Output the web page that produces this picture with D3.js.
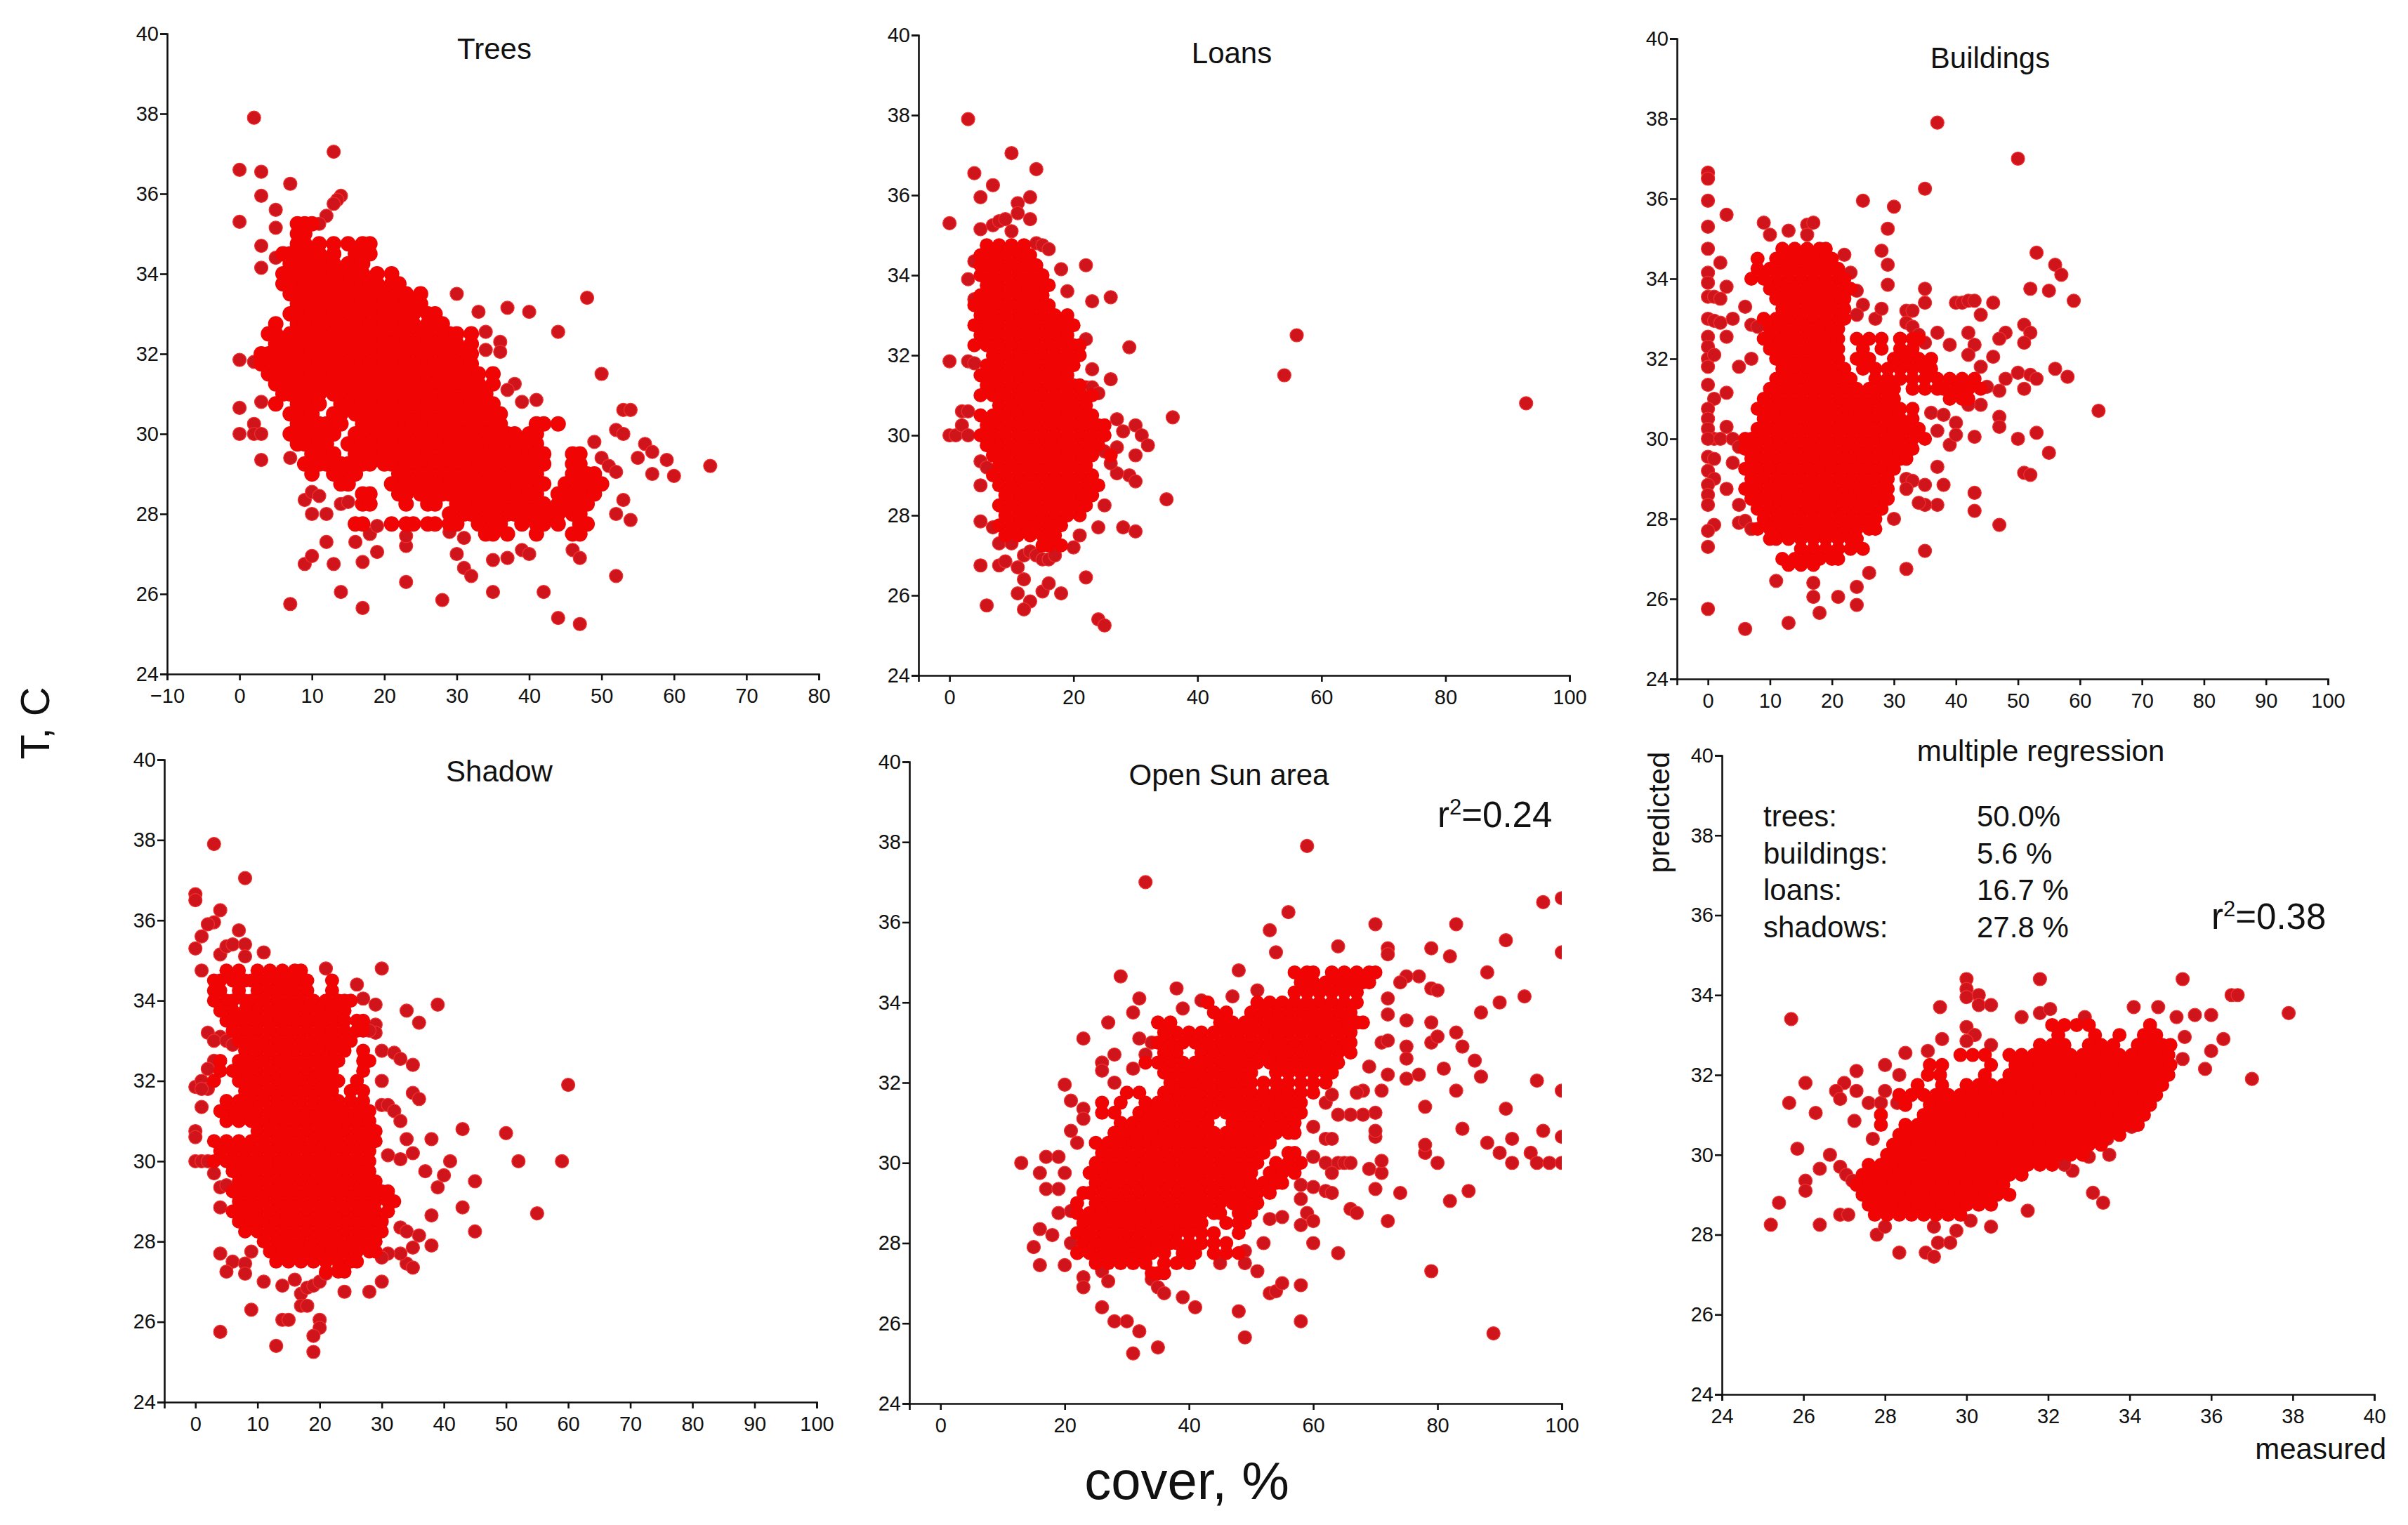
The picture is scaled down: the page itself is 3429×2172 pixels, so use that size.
<!DOCTYPE html>
<html>
<head>
<meta charset="utf-8">
<script src="https://cdn.jsdelivr.net/npm/d3@7"></script>
<style>
  html, body { margin: 0; background: #fff; }
  text { font-family: "Liberation Sans", Arial, sans-serif; fill: #111; }
</style>
</head>
<body>
<div id="chart"></div>
<script>
// dense parts are kept as [T, [cover, cover, ...]] rows, stray points as [cover, T]
const treesRows = [
  [35.25,[8,9,10]],[35,[8,9]],[34.75,[8,9,11,13,15,17,18]],[34.5,[6,7,8,10,11,13,16,17,18]],
  [34.25,[7,8,9,11,12,13,15,17]],[34,[6,7,8,10,11,13,14,16,17,19,21]],
  [33.75,[6,8,9,11,12,14,15,17,18,19,21,22]],[33.5,[7,8,10,11,13,14,16,17,19,20,22,23,25]],
  [33.25,[8,9,11,12,14,15,17,18,20,21,23,24,25]],[33,[7,8,10,11,13,14,16,17,19,20,22,23,24,26,27]],
  [32.75,[5,8,9,11,12,14,15,17,18,20,21,23,24,26,27,28]],
  [32.5,[4,5,7,8,10,11,13,14,16,17,19,20,22,23,25,26,28,29,30,32]],
  [32.25,[5,6,8,9,11,12,14,15,17,18,20,21,23,24,26,27,29,30,32]],
  [32,[3,4,5,7,8,10,11,13,14,16,17,19,20,22,23,25,26,28,29,31,32]],
  [31.75,[3,5,6,8,9,11,12,14,15,17,18,20,21,23,24,26,27,29,30,32]],
  [31.5,[4,5,7,8,10,11,13,14,16,17,19,20,22,23,25,26,28,29,31,32,33,35]],
  [31.25,[5,6,8,9,11,12,14,15,17,18,20,21,23,24,26,27,29,30,32,33,35]],
  [31,[6,7,8,10,11,13,14,16,17,19,20,22,23,25,26,28,29,31,32,34]],
  [30.75,[5,8,9,11,14,15,17,18,20,21,23,24,26,27,29,30,32,33,35]],
  [30.5,[7,8,10,13,14,16,17,19,20,22,23,25,26,28,29,31,32,34,35,36]],
  [30.25,[8,9,11,12,14,17,18,20,21,23,24,26,27,29,30,32,33,35,36,41,42,44]],
  [30,[7,8,10,11,13,16,17,19,20,22,23,25,26,28,29,31,32,34,35,37,38,40,41]],
  [29.75,[8,9,11,12,15,17,18,20,21,23,24,26,27,29,30,32,33,35,36,38,39,41]],
  [29.5,[10,11,13,16,17,19,20,22,23,25,26,28,29,31,32,34,35,37,38,40,41,42,46,47]],
  [29.25,[9,11,12,14,15,17,18,20,21,23,24,26,27,29,30,32,33,35,36,38,39,41,42,46,47]],
  [29,[10,13,14,16,22,23,25,26,28,29,31,32,34,35,37,38,40,41,46,48,49]],
  [28.75,[14,15,21,23,24,26,27,29,30,32,33,35,36,38,39,41,42,45,47,48,50]],
  [28.5,[17,18,22,23,25,26,28,29,31,32,34,35,37,38,40,41,44,46,47,49]],
  [28.25,[17,18,23,26,27,30,32,33,35,36,38,39,41,42,44,45,47,48]],
  [28,[29,31,32,34,35,37,38,40,41,43,44,46,47]],
  [27.75,[16,17,21,23,24,26,27,29,30,33,35,36,39,41,42,44,47,48]],
  [27.5,[34,35,37,41,46,47]]
];
const treesStray = [[2,37.9],[13,37.05],[0,36.6],[3,36.55],[7,36.25],[3,35.95],[14,35.95],[13.5,35.85],[13,35.75],[5,35.6],[0,35.3],[5,35.15],[12,35.45],[11,35.25],[3,34.7],[3,34.15],[5,34.4],[0,31.85],[2,31.8],[0,30.65],[3,30.8],[0,30],[2,30.25],[2,30],[3,30],[3,29.35],[7,29.4],[30,33.5],[33,33.05],[37,33.15],[40,33.05],[48,33.4],[44,32.55],[50,31.5],[34,32.55],[36,32.3],[36,32.05],[34,32.1],[38,31.25],[37,31.1],[39,30.8],[41,30.85],[52,30.1],[53,30],[53,30.6],[54,30.6],[49,29.8],[50,29.4],[51,29.2],[52,29.05],[55,29.4],[56,29.75],[57,29.55],[57,29],[59,29.35],[60,28.95],[65,29.2],[53,28.35],[52,28],[54,27.85],[9,28.35],[10,28.55],[11,28.45],[10,28],[12,28],[14,28.25],[15,28.3],[12,27.3],[9,26.75],[10,26.95],[13,26.75],[14,26.05],[17,26.8],[16,27.3],[19,27.05],[18,27.5],[19,27.7],[7,25.75],[17,25.65],[23,26.3],[28,25.85],[23,27.2],[23,27.45],[29,27.55],[31,27.4],[30,27],[31,26.65],[32,26.45],[35,26.85],[37,26.9],[39,27.1],[40,27],[35,26.05],[42,26.05],[44,25.4],[47,25.25],[52,26.45],[46,27.1],[47,26.9]];

const loansRows = [
  [34.75,[6,8,10,12]],[34.5,[5,7,9,11,13]],[34.25,[5,6,8,10,12,14]],[34,[5,7,9,11,13,15]],
  [33.75,[6,8,10,12,14,16]],[33.5,[5,7,9,11,13,15]],[33.25,[4,6,8,10,12,14,16]],
  [33,[5,7,9,11,13,15,17,19]],[32.75,[4,6,8,10,12,14,16,18,20]],[32.5,[5,7,9,11,13,15,17,19]],
  [32.25,[4,6,8,10,12,14,16,18,20,21]],[32,[7,9,11,13,15,17,19,21]],[31.75,[6,8,10,12,14,16,18,20]],
  [31.5,[5,7,9,11,13,15,17,19]],[31.25,[6,8,10,12,14,16,18,20,21]],[31,[5,7,9,11,13,15,17,19,21,23]],
  [30.75,[8,10,12,14,16,18,20,22]],[30.5,[5,7,9,11,13,15,17,19,21,23]],[30.25,[6,8,10,12,14,16,18,20,22,24,25]],
  [30,[5,7,9,11,13,15,17,19,21,23,25]],[29.75,[6,8,10,12,14,16,18,20,22,24]],[29.5,[7,9,11,13,15,17,19,21,23,26]],
  [29.25,[8,10,12,14,16,18,20,22]],[29,[7,9,11,13,15,17,19,21,23]],[28.75,[8,10,12,14,16,18,20,22,24]],
  [28.5,[9,11,13,15,17,19,21,23]],[28.25,[8,10,12,14,16,18,20,22]],[28,[9,11,13,15,17,19,21]],
  [27.75,[8,10,12,14,16,18]],[27.5,[9,11,13,15,17]],[27.25,[15,16,18]]
];
const loansStray = [[3,37.9],[10,37.05],[14,36.65],[4,36.55],[7,36.25],[5,35.95],[13,35.95],[11,35.8],[11,35.55],[13,35.4],[0,35.3],[5,35.15],[7,35.25],[8,35.35],[9,35.4],[10,35.1],[22,34.25],[18,34.15],[3,33.9],[4,34.35],[19,33.6],[23,33.35],[26,33.45],[4,33.4],[22,32.4],[29,32.2],[56,32.5],[54,31.5],[93,30.8],[0,31.85],[3,31.85],[4,31.8],[23,31.65],[26,31.4],[36,30.45],[27,30.4],[30,30.25],[31,30],[32,29.75],[30,29.5],[29,29],[30,28.85],[27,29.05],[35,28.4],[25,28.25],[24,27.7],[28,27.7],[30,27.6],[21,27.5],[20,27.2],[0,30],[1,30],[2,30.6],[3,30.6],[2,30.25],[3,30],[5,29.35],[6,29.2],[5,28.75],[5,27.85],[5,26.75],[8,26.75],[9,26.85],[11,26.7],[12,26.4],[11,26.05],[15,26.1],[16,26.3],[18,26.05],[13,25.85],[12,25.65],[6,25.75],[22,26.45],[24,25.4],[25,25.25],[14,34.8],[15,34.75],[16,34.65],[22,31.2],[23,31.2],[24,31.05],[23,29.7],[25,29.6],[27,29.7],[28,30.1],[26,29.3],[7,27.7],[8,27.3],[10,27.3],[12,27],[13,27.1],[14,27],[15,26.9],[16,26.9],[17,27]];

const buildingsRows = [
  [34.75,[12,14,16,18,19]],[34.5,[8,11,13,15,17,19,20]],[34.25,[8,10,12,14,16,18,20,21]],[34,[7,9,11,13,15,17,19,21,22]],
  [33.75,[10,12,14,16,18,20,22,23]],[33.5,[11,13,15,17,19,21,22]],[33.25,[12,14,16,18,20,22]],[33,[9,11,13,15,17,19,21,22]],
  [32.75,[10,12,14,16,18,20,21]],[32.5,[9,11,13,15,17,19,21,24,26,28,31,33,34]],[32.25,[10,12,14,16,18,20,21,25,28,31,33]],
  [32,[11,13,15,17,19,21,24,26,30,32,34,36]],[31.75,[12,14,16,18,20,22,25,27,29,31,33,35,36]],
  [31.5,[11,13,15,17,19,21,23,27,29,31,33,35,37,39,41,43]],[31.25,[10,12,14,16,18,20,22,24,26,28,30,33,35,37,38,40,42,44]],
  [31,[9,11,13,15,17,19,21,23,25,27,29,30,39,41,42]],[30.75,[8,10,12,14,16,18,20,22,24,26,28,30,31,33]],
  [30.5,[9,11,13,15,17,19,21,23,25,27,29,31,33]],[30.25,[8,10,12,14,16,18,20,22,24,26,28,30,32,34]],
  [30,[6,7,9,11,13,15,17,19,21,23,25,27,29,31,33,35]],[29.75,[6,8,10,12,14,16,18,20,22,24,26,28,30,32,33]],
  [29.5,[7,9,11,13,15,17,19,21,23,25,27,29,31,32]],[29.25,[6,8,10,12,14,16,18,20,22,24,26,28,30]],
  [29,[7,9,11,13,15,17,19,21,23,25,27,29]],[28.75,[6,8,10,12,14,16,18,20,22,24,26,28,29]],
  [28.5,[7,9,11,13,15,17,19,21,23,25,27,29]],[28.25,[8,10,12,14,16,18,20,22,24,26,28]],
  [28,[9,11,13,15,17,19,21,23,25,27]],[27.75,[8,10,12,14,16,18,20,22,24,26,27]],[27.5,[10,11,13,15,17,19,21,23,24]],
  [27.25,[15,17,19,21,23,25]],[27,[12,14,16,18,20,21]],[26.85,[13,15,17]]
];
const buildingsStray = [[0,36.65],[0,36.5],[0,35.95],[0,35.3],[0,34.75],[0,34.15],[0,33.9],[0,33.55],[1,33.55],[2,33.5],[3,33.8],[2,34.4],[3,35.6],[0,33],[1,32.95],[2,32.9],[4,33],[6,33.3],[7,32.85],[8,32.8],[0,32.55],[3,32.55],[0,32.3],[0,32],[1,32.1],[0,31.8],[5,31.8],[7,32],[0,31.35],[3,31.15],[1,31],[0,30.75],[0,30.5],[0,30.25],[1,30],[0,30],[2,30],[3,30.3],[4,30],[5,29.8],[4,29.4],[0,29.55],[1,29.5],[0,29.2],[1,29],[0,28.85],[0,28.6],[0,28.35],[3,28.75],[5,28.35],[1,27.85],[0,27.7],[5,27.9],[6,27.95],[7,27.75],[0,27.3],[0,25.75],[6,25.25],[13,25.4],[18,25.65],[17,26.05],[17,26.4],[11,26.45],[21,26.05],[24,26.3],[24,25.85],[26,26.65],[32,26.75],[35,27.2],[30,28],[25,35.95],[30,35.8],[35,36.25],[37,37.9],[50,37],[29,35.25],[28,34.7],[29,34.35],[29,33.85],[35,33.75],[35,33.4],[22,34.6],[23,34.15],[24,33.7],[25,33.35],[24,33.1],[27,33],[28,33.25],[53,34.65],[56,34.35],[57,34.1],[52,33.75],[55,33.7],[59,33.45],[40,33.4],[41,33.4],[42,33.45],[43,33.45],[46,33.4],[44,33.1],[9,35.4],[10,35.1],[13,35.2],[16,35.35],[17,35.4],[16,35.1],[48,32.65],[47,32.5],[51,32.85],[52,32.65],[51,32.4],[39,32.35],[37,32.65],[42,32.65],[43,32.35],[42,32.1],[46,32.05],[44,31.8],[56,31.75],[58,31.55],[50,31.65],[52,31.6],[53,31.5],[51,31.25],[48,31.5],[47,31.2],[45,31.3],[63,30.7],[47,30.55],[47,30.3],[44,30.85],[42,30.85],[40,30.4],[43,30.05],[53,30.15],[50,30],[55,29.65],[39,29.85],[37,29.3],[51,29.15],[52,29.1],[38,28.85],[43,28.65],[43,28.2],[47,27.85],[35,28.85],[37,28.35],[35,28.35],[34,28.4],[32,29],[33,28.95],[32,28.75],[36,30.65],[37,30.2],[38,30.6],[40,30.1],[32,33.2],[33,33.2],[32,32.9],[33,32.8],[34,32.6],[35,32.4],[31,32.5]];

const shadowRows = [
  [34.75,[5,7,10,12,14,16,17]],[34.5,[3,4,6,8,9,11,13,15,17,18,22]],[34.25,[3,4,7,10,12,14,16,18,22]],
  [34,[3,5,6,8,9,11,13,15,17,19,21,23,24,25]],[33.75,[4,6,8,10,12,14,16,18,20,22,24]],[33.5,[5,7,9,11,13,15,17,19,21,23,24,26,27]],
  [33.25,[6,8,10,12,14,16,18,20,22,24,26,27]],[33,[7,9,11,13,15,17,19,21,23,24,25]],[32.75,[8,10,12,14,16,18,20,22,24,27]],
  [32.5,[4,7,9,11,13,15,17,19,21,23,27,28]],[32.25,[4,6,8,10,12,14,16,18,20,22,27]],[32,[3,7,9,11,13,15,17,19,21,23,26]],
  [31.75,[8,10,12,14,16,18,20,22,25,27]],[31.5,[5,7,9,11,13,15,17,19,21,23,25,27]],[31.25,[4,6,8,10,12,14,16,18,20,22,24,26,28]],
  [31,[5,7,9,11,13,15,17,19,21,23,25,27,28]],[30.75,[10,12,14,16,18,20,22,24,26,28,29]],[30.5,[3,5,7,9,11,13,15,17,19,21,23,25,27,29]],
  [30.25,[4,6,8,10,12,14,16,18,20,22,24,26,28]],[30,[3,5,7,9,11,13,15,17,19,21,23,25,27,28]],[29.75,[6,8,10,12,14,16,18,20,22,24,26,28]],
  [29.5,[7,9,11,13,15,17,19,21,23,25,27,29]],[29.25,[6,8,10,12,14,16,18,20,22,24,26,28,30,31]],[29,[7,9,11,13,15,17,19,21,23,25,27,29,31,32]],
  [28.75,[6,8,10,12,14,16,18,20,22,24,26,28,29,31]],[28.5,[7,9,11,13,15,17,19,21,23,25,27,29,30]],[28.25,[8,10,12,14,16,18,20,22,24,26,28,30]],
  [28,[11,13,15,17,19,21,23,25,27,29]],[27.75,[12,14,16,18,20,22,24,26,28,29]],[27.5,[13,15,17,19,21,23,25,26]],[27.25,[21,23,24]]
];
const shadowStray = [[3,37.9],[8,37.05],[0,36.65],[0,36.5],[4,36.25],[3,35.95],[2,35.9],[1,35.6],[7,35.75],[0,35.3],[11,35.2],[4,35.15],[5,35.35],[6,35.4],[8,35.4],[8,35.1],[1,34.75],[30,34.8],[21,34.8],[26,34.4],[27,34.05],[29,33.9],[39,33.9],[34,33.75],[36,33.45],[29,33.4],[29,33.2],[28,33.25],[30,32.75],[32,32.7],[33,32.55],[35,32.4],[30,32],[35,31.7],[36,31.55],[60,31.9],[0,31.85],[1,32],[1,31.35],[2,31.8],[30,31.4],[31,31.4],[32,31.25],[33,31],[34,30.55],[43,30.8],[50,30.7],[38,30.55],[35,30.2],[33,30.05],[31,30.15],[41,30],[52,30],[59,30],[37,29.75],[40,29.65],[39,29.35],[45,29.5],[43,28.85],[55,28.7],[38,28.65],[45,28.25],[33,28.35],[34,28.25],[36,28.15],[35,27.85],[38,27.9],[34,27.45],[35,27.35],[33,27.7],[31,27.7],[30,27.6],[0,30.75],[0,30.6],[0,30],[1,30],[2,30],[3,29.7],[4,29.35],[5,29.4],[4,28.85],[4,27.7],[6,27.5],[5,27.25],[8,27.45],[8,27.2],[9,27.75],[11,27],[14,26.9],[16,27.05],[17,26.7],[18,26.85],[19,26.9],[20,27],[21,27.2],[17,26.4],[18,26.4],[9,26.3],[14,26.05],[15,26.05],[20,26.05],[20,25.85],[19,25.65],[4,25.75],[13,25.4],[19,25.25],[24,26.75],[28,26.75],[30,27],[23,27.3],[4,33.1],[2,33.2],[3,33],[5,33],[6,32.9],[3,32.5],[2,32.3],[1,31.8]];

const sunRows = [
  [34.75,[57,59,60,63,65,67,69,70]],[34.5,[58,60,62,64,66,68,69]],[34.25,[57,59,61,63,65,67]],
  [34,[43,51,53,55,57,59,61,63,65,67]],[33.75,[44,46,50,52,54,56,58,60,62,64,66]],[33.5,[35,37,45,47,49,51,53,55,57,59,61,63,65,67,68]],
  [33.25,[36,38,40,42,44,46,48,50,52,54,56,58,60,62,64,66]],[33,[35,37,39,41,43,45,47,49,51,53,55,57,59,61,63,65,66]],
  [32.75,[36,38,42,44,46,48,50,52,54,56,58,60,62,64,66]],[32.5,[33,35,37,39,41,43,45,47,49,51,53,55,57,59,61,63,64]],
  [32.25,[36,38,40,42,44,46,48,50,54,56,58,60,62,63]],[32,[37,39,41,43,45,47,49,50,52,54,56,58,60,62]],
  [31.75,[30,32,36,38,40,42,44,46,48,50,52,54,55,56,58,60]],[31.5,[26,29,33,35,37,39,41,43,45,47,49,51,53,55,57,58]],
  [31.25,[26,28,32,34,36,38,40,42,44,46,48,50,52,54,56,58]],[31,[29,31,33,35,37,39,41,43,47,49,51,53,55,57]],
  [30.75,[28,30,32,34,36,38,40,42,44,46,48,50,52,54,56,57]],[30.5,[25,27,29,31,33,35,37,39,41,43,45,47,49,51,53]],
  [30.25,[26,28,30,32,34,36,38,40,42,44,46,48,50,52,56,57]],[30,[25,27,29,31,33,35,37,39,41,43,45,47,49,51,54,56,58]],
  [29.75,[24,26,28,30,32,34,36,38,40,42,44,46,48,50,53,55,57]],[29.5,[25,27,29,31,33,35,37,39,41,43,45,47,49,50,52,54,55]],
  [29.25,[23,24,26,28,30,32,34,36,38,40,42,44,46,48,50,51,53]],[29,[22,25,27,29,31,33,35,37,39,41,43,45,47,49,51]],
  [28.75,[22,24,26,28,30,32,34,36,38,40,42,44,45,48,50]],[28.5,[23,25,27,29,31,33,35,37,39,41,42,46,48,49]],
  [28.25,[22,24,26,28,30,32,34,36,38,40,42,44,48]],[28,[23,25,27,29,31,33,35,37,38,40,42,44,46]],
  [27.75,[22,24,26,28,30,32,34,36,39,41,44,46,48]],[27.5,[25,27,29,31,33,36,38,40]],[27.25,[34,35,36]]
];
const sunStray = [[59,37.9],[33,37],[97,36.5],[100,36.6],[56,36.25],[70,35.95],[83,35.95],[53,35.8],[54,35.25],[64,35.4],[91,35.55],[100,35.25],[72,35.35],[72,35.2],[79,35.35],[82,35.15],[88,34.75],[48,34.8],[29,34.65],[38,34.35],[51,34.3],[47,34.15],[39,33.85],[42,34.05],[32,34.1],[31,33.75],[27,33.5],[23,33.1],[32,33.1],[34,33],[33,32.7],[28,32.7],[26,32.5],[26,32.3],[31,32.35],[28,32],[20,31.95],[21,31.55],[23,31.35],[23,31.1],[21,30.8],[22,30.5],[13,30],[17,30.15],[19,30.15],[20,29.75],[16,29.75],[17,29.35],[19,29.35],[16,28.35],[18,28.2],[15,27.9],[16,27.45],[20,27.45],[21,28],[19,28.75],[21,28.8],[23,27.15],[23,26.9],[26,27.3],[27,27.05],[26,26.4],[28,26.05],[30,26.05],[32,25.8],[31,25.25],[35,25.4],[34,27.1],[35,26.9],[36,26.75],[39,26.65],[41,26.4],[48,26.3],[49,25.65],[58,26.05],[53,26.75],[54,26.8],[55,27],[58,26.95],[89,25.75],[79,27.3],[64,27.75],[60,28],[52,28],[49,27.8],[51,27.3],[49,27.5],[45,27.5],[72,28.55],[66,28.85],[67,28.75],[58,29.1],[58,28.45],[59,28.75],[60,28.55],[53,28.6],[55,28.65],[82,29.05],[85,29.3],[74,29.25],[70,29.35],[69,29.85],[71,29.75],[71,30.05],[70,30.65],[70,30.8],[78,30.25],[78,30.45],[80,30],[84,30.85],[88,30.5],[90,30.25],[92,30.6],[95,30.25],[97,30.8],[100,30.65],[92,30],[96,30],[98,30],[100,30],[91,31.35],[100,31.8],[96,32.05],[83,31.8],[78,31.4],[87,32.15],[86,32.55],[81,32.35],[84,32.9],[83,33.25],[79,33],[80,33.15],[87,33.75],[90,34],[94,34.15],[79,33.5],[75,33.55],[79,34.35],[80,34.3],[77,34.65],[75,34.65],[74,34.5],[72,34.1],[72,33.7],[71,33],[72,33.05],[72,32.2],[71,31.8],[75,32.9],[75,32.6],[75,32.1],[77,32.2],[69,32.4],[68,31.8],[67,31.75],[70,31.25],[68,31.2],[66,31.2],[64,31.2],[62,31.5],[63,31.7],[60,30.9],[62,30.6],[63,30.6],[60,30.15],[62,30],[64,30],[65,30],[66,30],[63,29.75],[60,29.4],[62,29.3],[63,29.25],[58,29.45]];

// predicted, [measured ...]
const regressionRows = [
  [33.25,[32.1,32.4,32.7,33,34.5]],[33,[32.25,33.15,33.75,34.35,34.65]],[32.75,[31.8,32.1,32.4,33,33.3,33.6,34.2,34.5,34.8,35]],
  [32.5,[29.85,30.15,30.45,31.05,31.35,31.65,31.95,32.25,32.55,32.85,33.15,33.45,33.75,34.05,34.35,34.65,34.95]],
  [32.25,[29.1,29.4,30.6,31.2,31.5,31.8,32.1,32.4,32.7,33,33.3,33.6,33.9,34.2,34.5,34.8,35]],
  [32,[29.05,29.35,30.45,31.05,31.35,31.65,31.95,32.25,32.55,32.85,33.15,33.45,33.75,34.05,34.35,34.65,34.95]],
  [31.75,[28.8,29.4,30,30.3,30.6,30.9,31.2,31.5,31.8,32.1,32.4,32.7,33,33.3,33.6,33.9,34.2,34.5,34.8]],
  [31.5,[28.35,28.65,28.95,29.25,29.55,29.85,30.15,30.45,30.75,31.05,31.35,31.65,31.95,32.25,32.55,32.85,33.15,33.45,33.75,34.05,34.35,34.65]],
  [31.25,[28.5,29.1,29.4,29.7,30,30.3,30.6,30.9,31.2,31.5,31.8,32.1,32.4,32.7,33,33.3,33.6,33.9,34.2,34.5]],
  [31,[27.9,28.95,29.25,29.55,29.85,30.15,30.45,30.75,31.05,31.35,31.65,31.95,32.25,32.55,32.85,33.15,33.45,33.75,34.05,34.35]],
  [30.75,[27.9,28.5,28.8,29.1,29.4,29.7,30,30.3,30.6,30.9,31.2,31.5,31.8,32.1,32.4,32.7,33,33.3,33.6,33.9,34.2]],
  [30.5,[28.35,28.65,28.95,29.25,29.55,29.85,30.15,30.45,30.75,31.05,31.35,31.65,31.95,32.25,32.55,32.85,33.15,33.45,33.75]],
  [30.25,[28.2,28.5,28.8,29.1,29.4,29.7,30,30.3,30.6,30.9,31.2,31.5,31.8,32.1,32.4,32.7,33,33.3]],
  [30,[28.05,28.35,28.65,28.95,29.25,29.55,29.85,30.15,30.45,30.75,31.05,31.35,31.65,31.95,32.25,32.55,32.85]],
  [29.75,[27.6,27.9,28.2,28.5,28.8,29.1,29.4,29.7,30,30.3,30.6,30.9,31.2,31.5,31.8,32.1]],
  [29.5,[27.45,27.75,28.05,28.35,28.65,28.95,29.25,29.55,29.85,30.15,30.45,30.75,31.05,31.35]],
  [29.25,[27.3,27.6,27.9,28.2,28.5,28.8,29.1,29.4,29.7,30,30.3,30.6,30.9]],
  [29,[27.45,27.75,28.05,28.35,28.65,28.95,29.25,29.55,29.85,30.15,30.45,30.75,31.05]],
  [28.75,[27.6,27.9,28.2,28.5,28.8,29.1,29.4,29.7,30,30.3,30.6]],
  [28.5,[27.75,28.05,28.35,28.65,28.95,29.25,29.55,29.85]]
];
const regressionStray = [[37.9,33.55],[36.5,34],[36.65,34],[35.3,34.4],[31.8,34.4],[30,34.4],[30,34.15],[30,33.95],[30.3,34],[30.3,33.75],[30.6,33.75],[29.35,33.7],[31.35,33.45],[31.8,33.55],[32.05,33.65],[32.9,33.45],[34.1,33.7],[34.7,33.7],[35.15,33.45],[35.6,33.5],[36,33.5],[25.7,33.4],[30,33.2],[30.2,33],[30,32.85],[29.4,32.9],[36.3,32.9],[35.35,32.95],[36,32.6],[35.3,32.4],[35.85,32.15],[37,31.9],[28.5,32.55],[29.05,32.6],[30.6,32.75],[27.3,32.1],[28,32.25],[28.35,32],[26.05,31.8],[25.65,31.3],[27,31.8],[26.8,31.6],[26.9,31.4],[27.3,31.6],[26.3,31.05],[27.6,31.3],[27.9,31.3],[28,31.6],[28.3,31.3],[27.25,30.85],[27.7,30.4],[25.85,30.15],[26.65,30],[26.4,29.65],[26.9,29.7],[27.05,29.5],[27.2,29.35],[26.05,29.35],[26.05,29.1],[25.4,28.8],[25.2,28.25],[26.4,28.25],[26.9,28.5],[27.1,28.5],[27.8,28],[28,28.2],[28.35,27.55],[29,27.55],[29.2,27.45],[29.3,27.8],[29.6,27.8],[29.2,28.2],[29.75,28.1],[30.1,28.35],[30.6,28.2],[31.5,28.6],[33.1,29.05],[33.35,28.8],[33,29.95],[33.5,30],[33.45,30.4],[34.05,30.7],[32.6,29.6],[32.4,29.75]];

const tempTicks = d3.range(24, 41, 2);
const coverTens = d3.range(0, 101, 10);
const coverTwenties = d3.range(0, 101, 20);
const treesTicks = d3.range(-10, 81, 10);

const legendNames = ["trees:", "buildings:", "loans:", "shadows:"];
const legendValues = ["50.0%", "5.6 %", "16.7 %", "27.8 %"];

const panels = [
  { title: "Trees", rows: treesRows, stray: treesStray, xDomain: [-10, 80], xTicks: treesTicks, denseR: 11,
    left: 238, right: 1166, top: 48, bottom: 960, titleX: 704, titleY: 84 },
  { title: "Loans", rows: loansRows, stray: loansStray, xDomain: [-5, 100], xTicks: coverTwenties, denseR: 10,
    left: 1308, right: 2235, top: 50, bottom: 962, titleX: 1754, titleY: 90 },
  { title: "Buildings", rows: buildingsRows, stray: buildingsStray, xDomain: [-5, 100], xTicks: coverTens, denseR: 10,
    left: 2388, right: 3315, top: 55, bottom: 967, titleX: 2834, titleY: 97 },
  { title: "Shadow", rows: shadowRows, stray: shadowStray, xDomain: [-5, 100], xTicks: coverTens, denseR: 10,
    left: 234, right: 1163, top: 1082, bottom: 1997, titleX: 711, titleY: 1113 },
  { title: "Open Sun area", rows: sunRows, stray: sunStray, xDomain: [-5, 100], xTicks: coverTwenties, denseR: 10,
    left: 1295, right: 2224, top: 1085, bottom: 1999, titleX: 1750, titleY: 1118 },
  { title: "multiple regression", rows: regressionRows, stray: regressionStray, xDomain: [24, 40], xTicks: tempTicks, denseR: 10,
    left: 2452, right: 3381, top: 1076, bottom: 1986, titleX: 2906, titleY: 1084 }
];

const svg = d3.select("#chart").append("svg")
  .attr("width", 3429)
  .attr("height", 2172)
  .style("display", "block");

panels.forEach((p, i) => {
  const x = d3.scaleLinear().domain(p.xDomain).range([p.left, p.right]);
  const y = d3.scaleLinear().domain([24, 40]).range([p.bottom, p.top]);

  svg.append("clipPath").attr("id", `clip-${i}`)
    .append("rect")
    .attr("x", p.left).attr("y", p.top)
    .attr("width", p.right - p.left).attr("height", p.bottom - p.top);

  const marks = svg.append("g").attr("clip-path", `url(#clip-${i})`);

  marks.selectAll(".stray")
    .data(p.stray)
    .enter().append("circle")
    .attr("class", "stray")
    .attr("cx", d => x(d[0]))
    .attr("cy", d => y(d[1]))
    .attr("r", 9.5)
    .attr("fill", "#cf151b")
    .attr("stroke", "#f03030")
    .attr("stroke-width", 1.2);

  const dense = p.rows.flatMap(r => r[1].map(v => [v, r[0]]));
  marks.selectAll(".dense")
    .data(dense)
    .enter().append("circle")
    .attr("class", "dense")
    .attr("cx", d => x(d[0]))
    .attr("cy", d => y(d[1]))
    .attr("r", p.denseR)
    .attr("fill", "#f10404");

  const xAxis = svg.append("g")
    .attr("transform", `translate(0,${p.bottom})`)
    .call(d3.axisBottom(x).tickValues(p.xTicks).tickSizeOuter(0).tickSize(9).tickPadding(11));
  const yAxis = svg.append("g")
    .attr("transform", `translate(${p.left},0)`)
    .call(d3.axisLeft(y).tickValues(tempTicks).tickSizeOuter(0).tickSize(10).tickPadding(2));

  [xAxis, yAxis].forEach(a => {
    a.selectAll("path, line").attr("stroke", "#111").attr("stroke-width", 2.6);
    a.selectAll("text").style("font-size", "29px").style("font-family", "Liberation Sans");
  });

  svg.append("text")
    .attr("x", p.titleX).attr("y", p.titleY)
    .attr("text-anchor", "middle")
    .style("font-size", "42px")
    .text(p.title);
});

function rSquared(px, py, value) {
  const t = svg.append("text").attr("x", px).attr("y", py).style("font-size", "51px");
  t.append("tspan").text("r");
  t.append("tspan").attr("dy", -18).style("font-size", "31px").text("2");
  t.append("tspan").attr("dy", 18).text(`=${value}`);
}
rSquared(2047, 1178, "0.24");
rSquared(3149, 1323, "0.38");

legendNames.forEach((name, i) => {
  const yPos = 1177 + i * 52.5;
  svg.append("text").attr("x", 2511).attr("y", yPos).style("font-size", "42px").text(name);
  svg.append("text").attr("x", 2815).attr("y", yPos).style("font-size", "42px").text(legendValues[i]);
});

svg.append("text")
  .attr("transform", "translate(70,1030) rotate(-90)")
  .attr("text-anchor", "middle")
  .style("font-size", "58px")
  .text("T, C");

svg.append("text")
  .attr("x", 1690).attr("y", 2135)
  .attr("text-anchor", "middle")
  .style("font-size", "76px")
  .text("cover, %");

svg.append("text")
  .attr("x", 3398).attr("y", 2078)
  .attr("text-anchor", "end")
  .style("font-size", "42px")
  .text("measured");

svg.append("text")
  .attr("transform", "translate(2377,1157) rotate(-90)")
  .attr("text-anchor", "middle")
  .style("font-size", "42px")
  .text("predicted");
</script>
</body>
</html>
